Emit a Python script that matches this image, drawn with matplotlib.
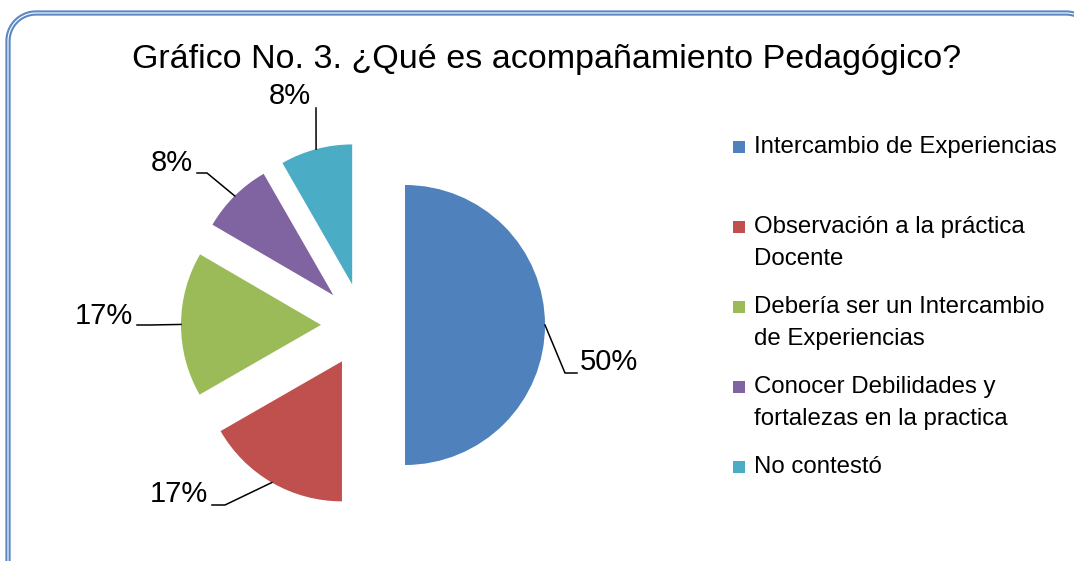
import numpy as np
import matplotlib
matplotlib.use("Agg")
import matplotlib.pyplot as plt
from matplotlib.patches import Rectangle

# data
categories = ["Intercambio de Experiencias",
              "Observación a la práctica\nDocente",
              "Debería ser un Intercambio\nde Experiencias",
              "Conocer Debilidades y\nfortalezas en la practica",
              "No contestó"]
percent = [50.0, 16.7, 16.7, 8.3, 8.3]
pct_labels = ["50%", "17%", "17%", "8%", "8%"]
colors = ["#4F81BD", "#C0504D", "#9BBB59", "#8064A2", "#4BACC6"]
title = "Gráfico No. 3. ¿Qué es acompañamiento Pedagógico?"

plt.rcParams['font.family'] = ['Liberation Sans', 'DejaVu Sans']

W, H = 1074, 561
CX, CY, R = 363, 325, 140   # pie centre / radius in pixels


def px(x, y):
    # pixel (from top-left) -> data units of the full-figure axes
    return (np.asarray(x) - CX) / R, (CY - np.asarray(y)) / R


fig = plt.figure(figsize=(W / 100, H / 100), dpi=100)
ax = fig.add_axes([0, 0, 1, 1])

wedges, _ = ax.pie(percent, colors=colors, startangle=90, counterclock=False,
                   explode=[0.3] * len(percent), radius=1,
                   wedgeprops=dict(linewidth=0))
ax.set_xlim(-CX / R, (W - CX) / R)
ax.set_ylim(-(H - CY) / R, CY / R)
ax.set_aspect('equal')
ax.axis('off')

#-----percent labels with leader lines-----#
# (text edge x, text centre y, side, elbow point, tail end) in pixels
label_layout = [
    (580, 362, 'left', (565, 373), (577, 373)),
    (208, 494, 'right', (225, 505), (212, 505)),
    (133, 316, 'right', (150, 325), (137, 325)),
    (193, 163, 'right', (207, 173), (197, 173)),
    (311, 96, 'right', (316, 108), (316, 108)),
]
for w, lab, (tx, ty, side, elbow, tail) in zip(wedges, pct_labels, label_layout):
    mid = np.deg2rad((w.theta1 + w.theta2) / 2)
    sx = w.center[0] + w.r * np.cos(mid)
    sy = w.center[1] + w.r * np.sin(mid)
    ex, ey = px(*elbow)
    qx, qy = px(*tail)
    ax.plot([sx, ex, qx], [sy, ey, qy], color='black', lw=1.1)
    x, y = px(tx, ty)
    ax.text(x, y, lab, ha=side, va='center', fontsize=21, color='black')

#-----title-----#
x, y = px(547, 68)
ax.text(x, y, title, ha='center', va='baseline', fontsize=24.5)

#-----legend-----#
for i, (cat, col) in enumerate(zip(categories, colors)):
    y0 = 147 + 80 * i
    x, y = px(733, y0 + 6)
    ax.add_patch(Rectangle((x, y), 12 / R, 12 / R, color=col, lw=0))
    for j, line in enumerate(cat.split("\n")):
        x, y = px(754, y0 + 32 * j)
        ax.text(x, y, line, ha='left', va='center', fontsize=17.3)

#-----border (rounded frame, cut by the right/bottom edges)-----#
rc = 28
t1 = np.linspace(np.pi, np.pi / 2, 30)
t2 = np.linspace(np.pi / 2, 0, 30)
bx = np.concatenate([[8], 8 + rc + rc * np.cos(t1), 1066 + rc * np.cos(t2), [1094]])
by = np.concatenate([[600], 13 + rc - rc * np.sin(t1), 13 + rc - rc * np.sin(t2), [600]])
bx, by = px(bx, by)
ax.plot(bx, by, color='#5B87C2', lw=3.8, solid_capstyle='butt', clip_on=False)
ax.plot(bx, by, color='white', lw=0.8, clip_on=False)

fig.savefig("out.png", dpi=100)
